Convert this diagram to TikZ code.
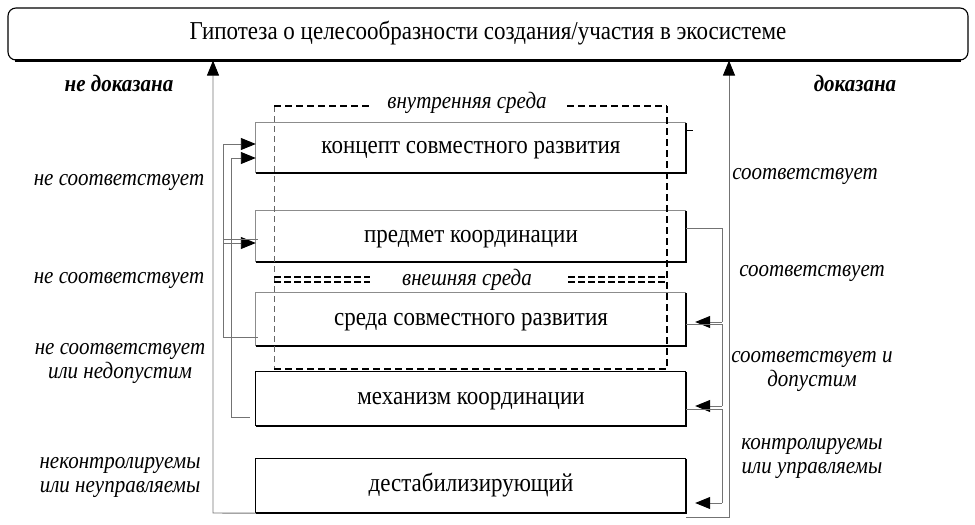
\documentclass[tikz,border=0pt]{standalone}
\usepackage{fontspec}
\usepackage{graphicx}
\setmainfont{Liberation Serif}
\usetikzlibrary{arrows.meta,calc}
\newcommand{\vst}[1]{\scalebox{1}[1.12]{#1}}
\begin{document}
\begin{tikzpicture}[x=1pt,y=-1pt,
  line/.style={draw=black!55, line width=0.9pt},
  arr/.style={line, -{Triangle[length=15pt,width=12pt,color=black,fill=black]}},
  blk/.style={minimum width=430pt, inner sep=0pt, text height=11pt, text depth=0pt,
              font=\fontsize{23}{26}\selectfont},
  lbl/.style={font=\fontsize{21}{24}\selectfont\itshape, align=center, inner sep=0pt},
  blbl/.style={font=\fontsize{21}{24}\selectfont\bfseries\itshape, inner sep=0pt},
  thindash/.style={draw=black!60, line width=0.6pt, dash pattern=on 6pt off 4pt},
  thickdash/.style={draw=black, line width=1.5pt, dash pattern=on 7pt off 4pt},
  dbldash/.style={draw=black, line width=1.1pt, dash pattern=on 7pt off 3pt},
]
\useasboundingbox (0,0) rectangle (975,525);

% top box
\node[draw=black, line width=1.1pt, rounded corners=8pt, minimum width=960pt, minimum height=52pt,
      inner sep=0pt, text height=11pt, text depth=0pt, font=\fontsize{23}{26}\selectfont] (hyp) at (488,34)
      {\vst{Гипотеза о целесообразности создания/участия в экосистеме}};
\draw[black, line width=2.2pt] ([xshift=8pt]hyp.south west) -- ([xshift=-8pt]hyp.south east);

% boxes
\node[blk, minimum height=50pt] (kon) at (471,148) {\vst{концепт совместного развития}};
\node[blk, minimum height=51pt] (pred) at (471,236.5) {\vst{предмет координации}};
\node[blk, minimum height=53pt] (sreda) at (471,319.5) {\vst{среда совместного развития}};
\node[blk, minimum height=54pt] (mech) at (471,399) {\vst{механизм координации}};
\node[blk, minimum height=54pt] (dest) at (471,486) {\vst{дестабилизирующий}};

\foreach \n in {kon,pred,sreda}{
  \draw[black!45, line width=0.8pt] (\n.south west) -- (\n.north west) -- (\n.north east);
  \draw[black, line width=1.8pt] (\n.north east) -- (\n.south east) -- (\n.south west);
}
\foreach \n in {mech,dest}{
  \draw[black, line width=1pt] (\n.south west) -- (\n.north west) -- (\n.north east);
  \draw[black, line width=1.8pt] (\n.north east) -- (\n.south east) -- (\n.south west);
}
\draw[black, line width=0.8pt] ([yshift=-8pt]kon.north east) -- ++(7,0);

% labels
\node[blbl] (nd) at (119,83) {\vst{не доказана}};
\node[blbl] (dk) at (855,83) {\vst{доказана}};
\node[lbl] (l1) at (119,182) {\vst{не соответствует}};
\node[lbl] (l2) at (119,280) {\vst{не соответствует}};
\node[lbl] (l3) at (120,363.5) {\vst{не соответствует}\\\vst{или недопустим}};
\node[lbl] (l4) at (120,477.5) {\vst{неконтролируемы}\\\vst{или неуправляемы}};
\node[lbl] (r1l) at (805,176) {\vst{соответствует}};
\node[lbl] (r2l) at (812,273) {\vst{соответствует}};
\node[lbl] (r3l) at (812,371.5) {\vst{соответствует и}\\\vst{допустим}};
\node[lbl] (r4l) at (812,458.5) {\vst{контролируемы}\\\vst{или управляемы}};

% dashed environment frame
\coordinate (dtl) at (274,106);
\coordinate (dtr) at (667,106);
\coordinate (dbl) at (274,369);
\coordinate (dbr) at (667,369);
\draw[thindash] (dtl) -- (dbl);
\draw[thickdash] (dtl) -- (370,106);
\draw[thickdash] (567,106) -- (dtr);
\draw[thickdash] (dtr) -- (dbr);
\draw[thickdash] (dbl) -- (dbr);
\node[lbl] (vn) at (467,103) {\vst{внутренняя среда}};
\draw[dbldash] (274,277) -- (370,277);
\draw[dbldash] (274,282) -- (370,282);
\draw[dbldash] (568,277) -- (667,277);
\draw[dbldash] (568,282) -- (667,282);
\node[lbl] (vsh) at (467,280) {\vst{внешняя среда}};

% right connectors
\coordinate (r1) at (722,228);
\coordinate (r2) at (722,322);
\coordinate (r3) at (722,324);
\coordinate (r4) at (722,406);
\coordinate (r5) at (722,409);
\coordinate (r6) at (722,503);
\coordinate (rb) at (729,517);
\draw[line] (r1 -| pred.east) -- (r1) -- (r2);
\draw[arr] (r2) -- ([xshift=9pt]r2 -| sreda.east);
\draw[line] (r3 -| sreda.east) -- (r3) -- (r4);
\draw[arr] (r4) -- ([xshift=9pt]r4 -| mech.east);
\draw[line] (r5 -| mech.east) -- (r5) -- (r6);
\draw[arr] (r6) -- ([xshift=9pt]r6 -| dest.east);
\draw[arr] (rb -| dest.east) -- (rb) -- (rb |- hyp.south);

% left connectors
\coordinate (lb) at (213,513);
\draw[arr] (dest.south west) -- (lb) -- (lb |- hyp.south);
\coordinate (a1) at (223,337);
\coordinate (a2) at (223,144);
\coordinate (a3) at (223,243);
\coordinate (a4) at (223,239);
\draw[line] ([xshift=2pt]a1 -| sreda.west) -- (a1) -- (a2);
\draw[arr] (a2) -- (a2 -| kon.west);
\draw[arr] (a3) -- (a3 -| pred.west);
\draw[line] (a4) -- ([xshift=2pt]a4 -| pred.west);
\coordinate (b1) at (231,417);
\coordinate (b2) at (231,158);
\draw[line] ([xshift=-6pt]b1 -| mech.west) -- (b1) -- (b2);
\draw[arr] (b2) -- (b2 -| kon.west);
\end{tikzpicture}
\end{document}
